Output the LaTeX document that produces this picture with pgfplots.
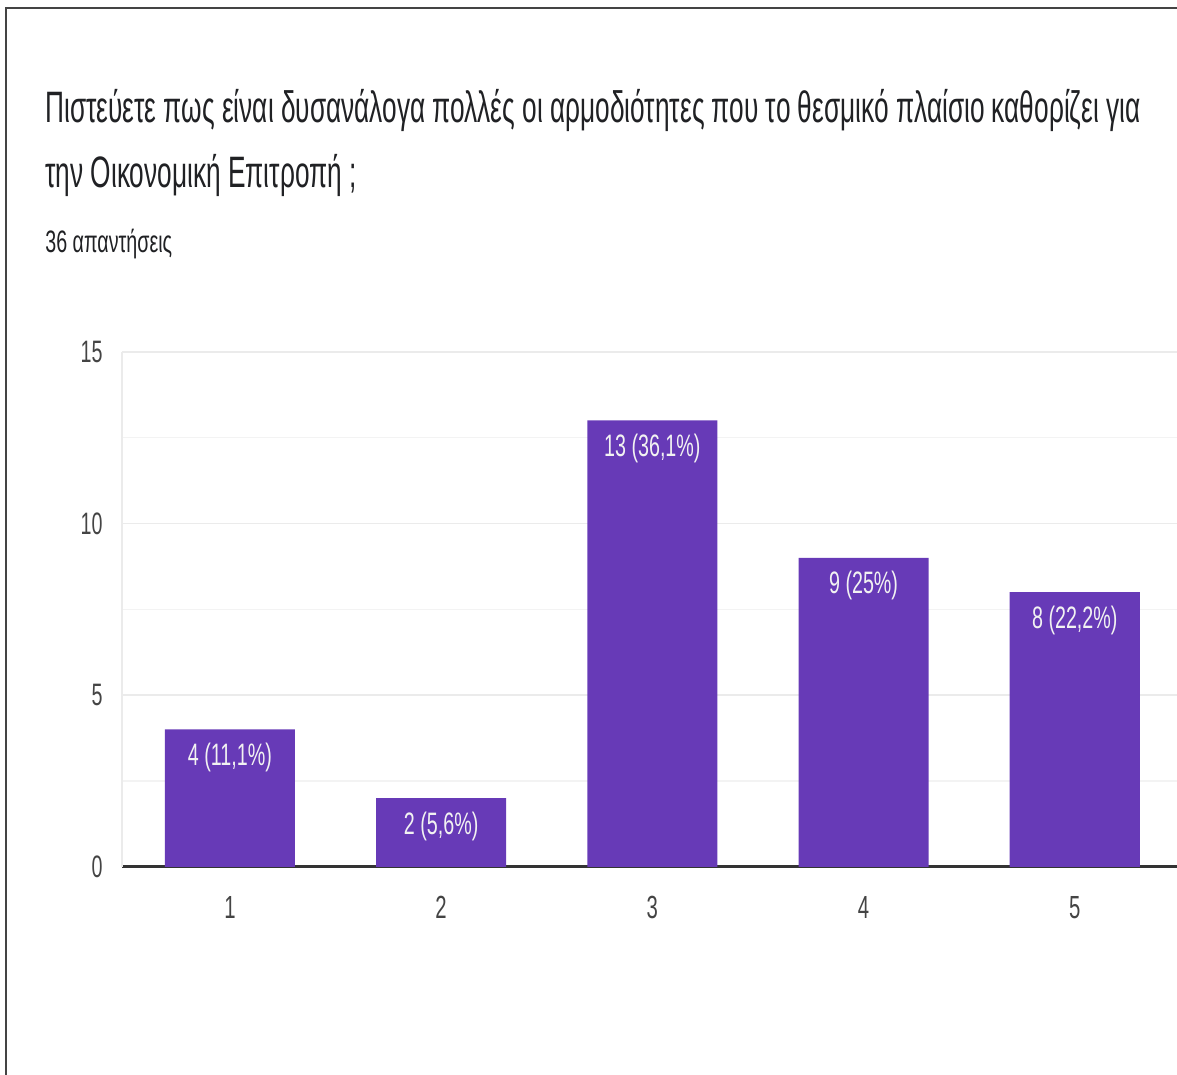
\documentclass[border=0pt]{standalone}
\usepackage{pgfplots}
\pgfplotsset{compat=1.18}
\usepackage{fontspec}
\setmainfont{Liberation Sans}[FakeStretch=0.635]
\newfontfamily\titlefont{Liberation Sans}[FakeStretch=0.597]
\definecolor{barc}{HTML}{673AB7}
\definecolor{framec}{HTML}{444444}
\definecolor{titlec}{HTML}{202124}
\definecolor{tickc}{HTML}{444444}
\definecolor{gridc}{HTML}{EBEBEB}
\definecolor{gridm}{HTML}{F3F3F3}
\definecolor{zeroc}{HTML}{333333}
\definecolor{labc}{HTML}{F2F2F2}
\begin{document}
\begin{tikzpicture}
\useasboundingbox (0,0) rectangle (588.5pt,-537.5pt);
\draw[color=framec, line width=0.8pt] (3pt,-537.5pt) -- (3pt,-4pt) -- (588.5pt,-4pt);
\node[anchor=base west, inner sep=0pt, font=\titlefont\fontsize{22}{26}\selectfont, text=titlec] at (22.5pt,-61.5pt) {Πιστεύετε πως είναι δυσανάλογα πολλές οι αρμοδιότητες που το θεσμικό πλαίσιο καθορίζει για};
\node[anchor=base west, inner sep=0pt, font=\titlefont\fontsize{22}{26}\selectfont, text=titlec] at (22.5pt,-94pt) {την Οικονομική Επιτροπή ;};
\node[anchor=base west, inner sep=0pt, font=\fontsize{15.5}{18}\selectfont, text=titlec] at (22.5pt,-126pt) {36 απαντήσεις};
\begin{axis}[
  at={(61pt,-433.4pt)}, anchor=south west,
  scale only axis, width=527.5pt, height=257.5pt,
  xmin=0.489, xmax=5.484, ymin=0, ymax=15,
  ytick={0,5,10,15}, minor ytick={2.5,7.5,12.5},
  xtick={1,2,3,4,5},
  ymajorgrids, yminorgrids,
  major grid style={color=gridc, line width=0.75pt},
  minor grid style={color=gridm, line width=0.75pt},
  axis x line*=bottom, axis y line*=left,
  x axis line style={color=zeroc, line width=1.5pt, -},
  y axis line style={color=gridc, line width=0.75pt, -},
  major tick length=0pt, minor tick length=0pt,
  tick style={draw=none},
  /pgf/number format/assume math mode=true,
  yticklabel style={anchor=east, inner sep=0pt, xshift=-9.5pt, text=tickc, font=\fontsize{15.5}{18}\selectfont},
  xticklabel style={anchor=base, inner sep=0pt, yshift=-26pt, text=tickc, font=\fontsize{16}{18}\selectfont},
  ybar, bar width=0.616,
  clip=false,
]
\addplot[fill=barc, draw=none,
  nodes near coords, point meta=explicit symbolic,
  nodes near coords style={anchor=base, yshift=-18pt, inner sep=0pt, text=labc, font=\fontsize{15.5}{18}\selectfont}]
  coordinates {(1,4) [4 (11,1\%)] (2,2) [2 (5,6\%)] (3,13) [13 (36,1\%)] (4,9) [9 (25\%)] (5,8) [8 (22,2\%)]};
\end{axis}
\end{tikzpicture}
\end{document}
